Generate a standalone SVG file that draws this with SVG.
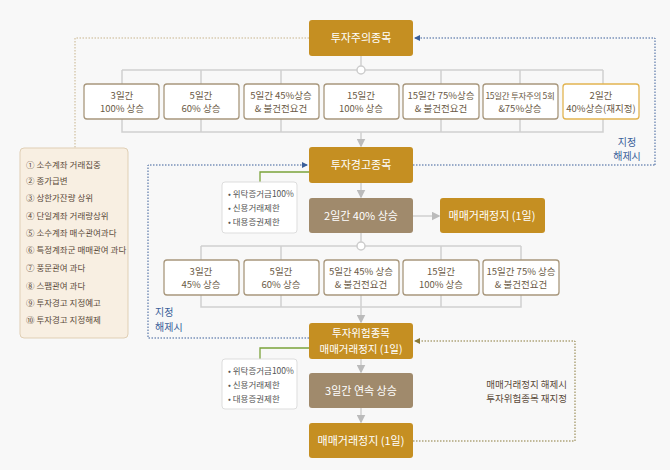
<svg xmlns="http://www.w3.org/2000/svg" width="670" height="470" viewBox="0 0 670 470">
<defs>
<marker id="ag" markerWidth="6" markerHeight="6" refX="5" refY="3" orient="auto"><path d="M0,0L6,3L0,6z" fill="#bbb"/></marker>
<marker id="ab" markerWidth="6" markerHeight="6" refX="5" refY="3" orient="auto"><path d="M0,0L6,3L0,6z" fill="#3a5f9a"/></marker>
<marker id="ao" markerWidth="6" markerHeight="6" refX="5" refY="3" orient="auto"><path d="M0,0L6,3L0,6z" fill="#8a7a3a"/></marker>
</defs>
<style>
text{font-family:"Noto Sans CJK KR","Noto Sans",sans-serif;text-anchor:middle}
.gold{fill:#c58f22}
.brn{fill:#a08a6c}
.wt{fill:#fff;font-size:11px}
.box{fill:#fff;stroke:#a8977c;stroke-width:1.3}
.bt{fill:#6a5a45;font-size:9.5px}
.ln{stroke:#d0d0d0;stroke-width:1.5;fill:none}
.note{fill:#fff;stroke:#ddd}
.nt{fill:#555;font-size:8.5px;text-anchor:start}
.lg{fill:#5a4a3a;font-size:8.5px;text-anchor:start}
.blue{stroke:#3a5f9a;stroke-dasharray:1.5 1.5;fill:none}
.blt{fill:#3a5f9a;font-size:10px}
</style>
<rect width="670" height="470" fill="#f8f8f8"/>
<g id="connectors">
<path class="ln" d="M361,56V70M122,70H603M122,70V84M201,70V84M281,70V84M441,70V84M520,70V84M603,70V84M122,119V132H603V119M201,119V132M281,119V132M441,119V132M520,119V132"/>
<path class="ln" d="M361,132V146" marker-end="url(#ag)"/>
<path class="ln" d="M361,183V197" marker-end="url(#ag)"/>
<path class="ln" d="M413,216H439" marker-end="url(#ag)"/>
<path class="ln" d="M361,233V246M201,246H521M201,246V260M281,246V260M441,246V260M521,246V260M201,295V307H521V295M281,295V307M441,295V307"/>
<path class="ln" d="M361,295V322" marker-end="url(#ag)"/>
<path class="ln" d="M361,359V372" marker-end="url(#ag)"/>
<path class="ln" d="M361,408V422" marker-end="url(#ag)"/>
<circle cx="361" cy="70" r="4" fill="#fff" stroke="#ccc" stroke-width="1.5"/>
<circle cx="361" cy="246" r="4" fill="#fff" stroke="#ccc" stroke-width="1.5"/>
<path d="M309,38H75V148" fill="none" stroke="#c8b48c" stroke-dasharray="1.5 1.5"/>
<path class="blue" d="M655,165V38H415" marker-end="url(#ab)"/>
<path class="blue" d="M413,165H655"/>
<path class="blue" d="M309,338H148V165H307" marker-end="url(#ab)"/>
<path d="M413,441H575V341H415" fill="none" stroke="#8a7a3a" stroke-dasharray="1.5 1.5" marker-end="url(#ao)"/>
<path d="M309,172H260V182M309,348H260V359" fill="none" stroke="#7aa23a" stroke-width="1.3"/>
</g>
<g id="n-caution"><rect class="gold" x="309" y="20" width="104" height="36" rx="3"/><text class="wt" x="361" y="42">투자주의종목</text></g>
<g id="c1"><rect class="box" x="84" y="84" width="75" height="35" rx="3"/><text class="bt" x="122" y="99">3일간</text><text class="bt" x="122" y="112">100% 상승</text></g>
<g id="c2"><rect class="box" x="164" y="84" width="75" height="35" rx="3"/><text class="bt" x="201" y="99">5일간</text><text class="bt" x="201" y="112">60% 상승</text></g>
<g id="c3"><rect class="box" x="244" y="84" width="75" height="35" rx="3"/><text class="bt" x="281" y="99">5일간 45%상승</text><text class="bt" x="281" y="112">&amp; 불건전요건</text></g>
<g id="c4"><rect class="box" x="324" y="84" width="75" height="35" rx="3"/><text class="bt" x="361" y="99">15일간</text><text class="bt" x="361" y="112">100% 상승</text></g>
<g id="c5"><rect class="box" x="403" y="84" width="76" height="35" rx="3"/><text class="bt" x="441" y="99">15일간 75%상승</text><text class="bt" x="441" y="112">&amp; 불건전요건</text></g>
<g id="c6"><rect class="box" x="483" y="84" width="75" height="35" rx="3"/><text class="bt" x="520" y="99" style="font-size:8.5px;letter-spacing:-0.3px">15일간 투자주의 5회</text><text class="bt" x="520" y="112">&amp;75%상승</text></g>
<g id="c7"><rect class="box" x="563" y="84" width="76" height="35" rx="3" style="stroke:#e2b450"/><text class="bt" x="601" y="99">2일간</text><text class="bt" x="601" y="112">40%상승(재지정)</text></g>
<text class="blt" x="627" y="146">지정</text><text class="blt" x="627" y="160">해제시</text>
<g id="legend"><rect x="20" y="148" width="108" height="190" rx="4" fill="#f8efe2" stroke="#e0cfb5"/>
<text class="lg" x="26" y="168">① 소수계좌 거래집중</text>
<text class="lg" x="26" y="184">② 종가급변</text>
<text class="lg" x="26" y="201">③ 상한가잔량 상위</text>
<text class="lg" x="26" y="219">④ 단일계좌 거래량상위</text>
<text class="lg" x="26" y="236">⑤ 소수계좌 매수관여과다</text>
<text class="lg" x="26" y="253">⑥ 특정계좌군 매매관여 과다</text>
<text class="lg" x="26" y="271">⑦ 풍문관여 과다</text>
<text class="lg" x="26" y="289">⑧ 스팸관여 과다</text>
<text class="lg" x="26" y="306">⑨ 투자경고 지정예고</text>
<text class="lg" x="26" y="323">⑩ 투자경고 지정해제</text></g>
<g id="n-warning"><rect class="gold" x="309" y="147" width="104" height="36" rx="3"/><text class="wt" x="361" y="169">투자경고종목</text></g>
<g id="note1"><rect class="note" x="222" y="182" width="75" height="51" rx="3"/><text class="nt" x="228" y="197">• 위탁증거금100%</text><text class="nt" x="228" y="211">• 신용거래제한</text><text class="nt" x="228" y="225">• 대용증권제한</text></g>
<g id="n-2d"><rect class="brn" x="309" y="198" width="104" height="35" rx="3"/><text class="wt" x="361" y="220">2일간 40% 상승</text></g>
<g id="n-halt1"><rect class="gold" x="440" y="198" width="105" height="35" rx="3"/><text class="wt" x="492" y="220">매매거래정지 (1일)</text></g>
<g id="w1"><rect class="box" x="164" y="260" width="75" height="35" rx="3"/><text class="bt" x="201" y="275">3일간</text><text class="bt" x="201" y="288">45% 상승</text></g>
<g id="w2"><rect class="box" x="244" y="260" width="75" height="35" rx="3"/><text class="bt" x="281" y="275">5일간</text><text class="bt" x="281" y="288">60% 상승</text></g>
<g id="w3"><rect class="box" x="324" y="260" width="75" height="35" rx="3"/><text class="bt" x="361" y="275">5일간 45% 상승</text><text class="bt" x="361" y="288">&amp; 불건전요건</text></g>
<g id="w4"><rect class="box" x="403" y="260" width="76" height="35" rx="3"/><text class="bt" x="441" y="275">15일간</text><text class="bt" x="441" y="288">100% 상승</text></g>
<g id="w5"><rect class="box" x="483" y="260" width="76" height="35" rx="3"/><text class="bt" x="521" y="275">15일간 75% 상승</text><text class="bt" x="521" y="288">&amp; 불건전요건</text></g>
<text class="blt" x="155" y="316" style="text-anchor:start">지정</text><text class="blt" x="155" y="331" style="text-anchor:start">해제시</text>
<g id="n-risk"><rect class="gold" x="309" y="323" width="104" height="36" rx="3"/><text class="wt" x="361" y="337" style="font-size:10.5px">투자위험종목</text><text class="wt" x="361" y="353" style="font-size:10.5px">매매거래정지 (1일)</text></g>
<g id="note2"><rect class="note" x="222" y="359" width="75" height="50" rx="3"/><text class="nt" x="228" y="374">• 위탁증거금100%</text><text class="nt" x="228" y="388">• 신용거래제한</text><text class="nt" x="228" y="402">• 대용증권제한</text></g>
<g id="n-3d"><rect class="brn" x="309" y="373" width="104" height="35" rx="3"/><text class="wt" x="361" y="395">3일간 연속 상승</text></g>
<g id="n-halt2"><rect class="gold" x="309" y="423" width="104" height="35" rx="3"/><text class="wt" x="361" y="445">매매거래정지 (1일)</text></g>
<text x="567" y="388" style="text-anchor:end;font-size:9.5px;fill:#5a4a3a">매매거래정지 해제시</text>
<text x="567" y="402" style="text-anchor:end;font-size:9.5px;fill:#5a4a3a">투자위험종목 재지정</text>
</svg>
